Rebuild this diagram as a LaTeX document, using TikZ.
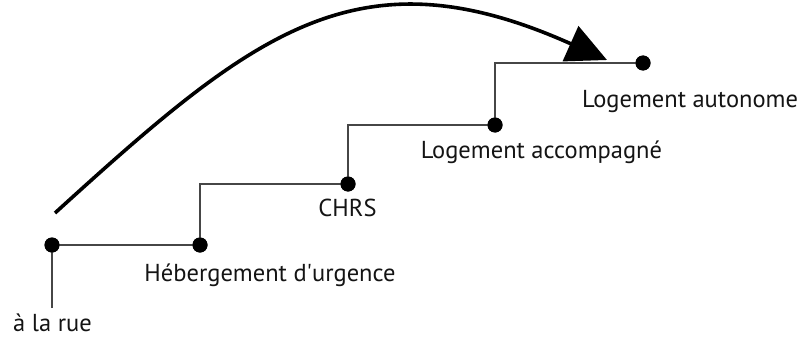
\documentclass[tikz,border=0pt]{standalone}
\usepackage{fontspec}
\setmainfont{PT Sans}
\usetikzlibrary{arrows.meta}
\definecolor{stepgray}{RGB}{70,70,70}
\definecolor{txt}{RGB}{20,20,20}
\begin{document}
\begin{tikzpicture}[x=1pt,y=-1pt,
  dot/.style={circle,fill=black,inner sep=0pt,minimum size=15pt},
  stepline/.style={draw=stepgray,line width=1.6pt},
  lbl/.style={anchor=base,inner sep=0pt,text=txt,font=\fontsize{24.5}{28}\selectfont},
  jump/.style={line width=3.6pt,-{Triangle[length=40pt,width=38pt]}}]
\useasboundingbox (0,0) rectangle (805,337);
% dots
\node[dot] (rue) at (52,245) {};
\node[dot] (heb) at (200,245) {};
\node[dot] (chrs) at (348,184) {};
\node[dot] (acc) at (495,125) {};
\node[dot] (aut) at (643,63) {};
\coordinate (ruebot) at (52,308);
% step lines
\draw[stepline] (ruebot) -- (rue.center) -- (heb.center) |- (chrs.center) |- (acc.center) |- (aut.center);
% redraw dots on top
\foreach \n in {rue,heb,chrs,acc,aut} \fill (\n) circle (7.5pt);
% labels
\node[lbl] (lrue) at (52.5,331) {à la rue};
\node[lbl] (lheb) at (270,281) {Hébergement d\textquotesingle urgence};
\node[lbl] (lchrs) at (347.5,216) {CHRS};
\node[lbl] (lacc) at (541.5,158) {Logement accompagné};
\node[lbl] (laut) at (690,107) {Logement autonome};
% jump arrow
\coordinate (js) at (55,213);
\coordinate (je) at (607,60);
\draw[jump] (js) .. controls (253,33) and (357,-52) .. (je);
\end{tikzpicture}
\end{document}
